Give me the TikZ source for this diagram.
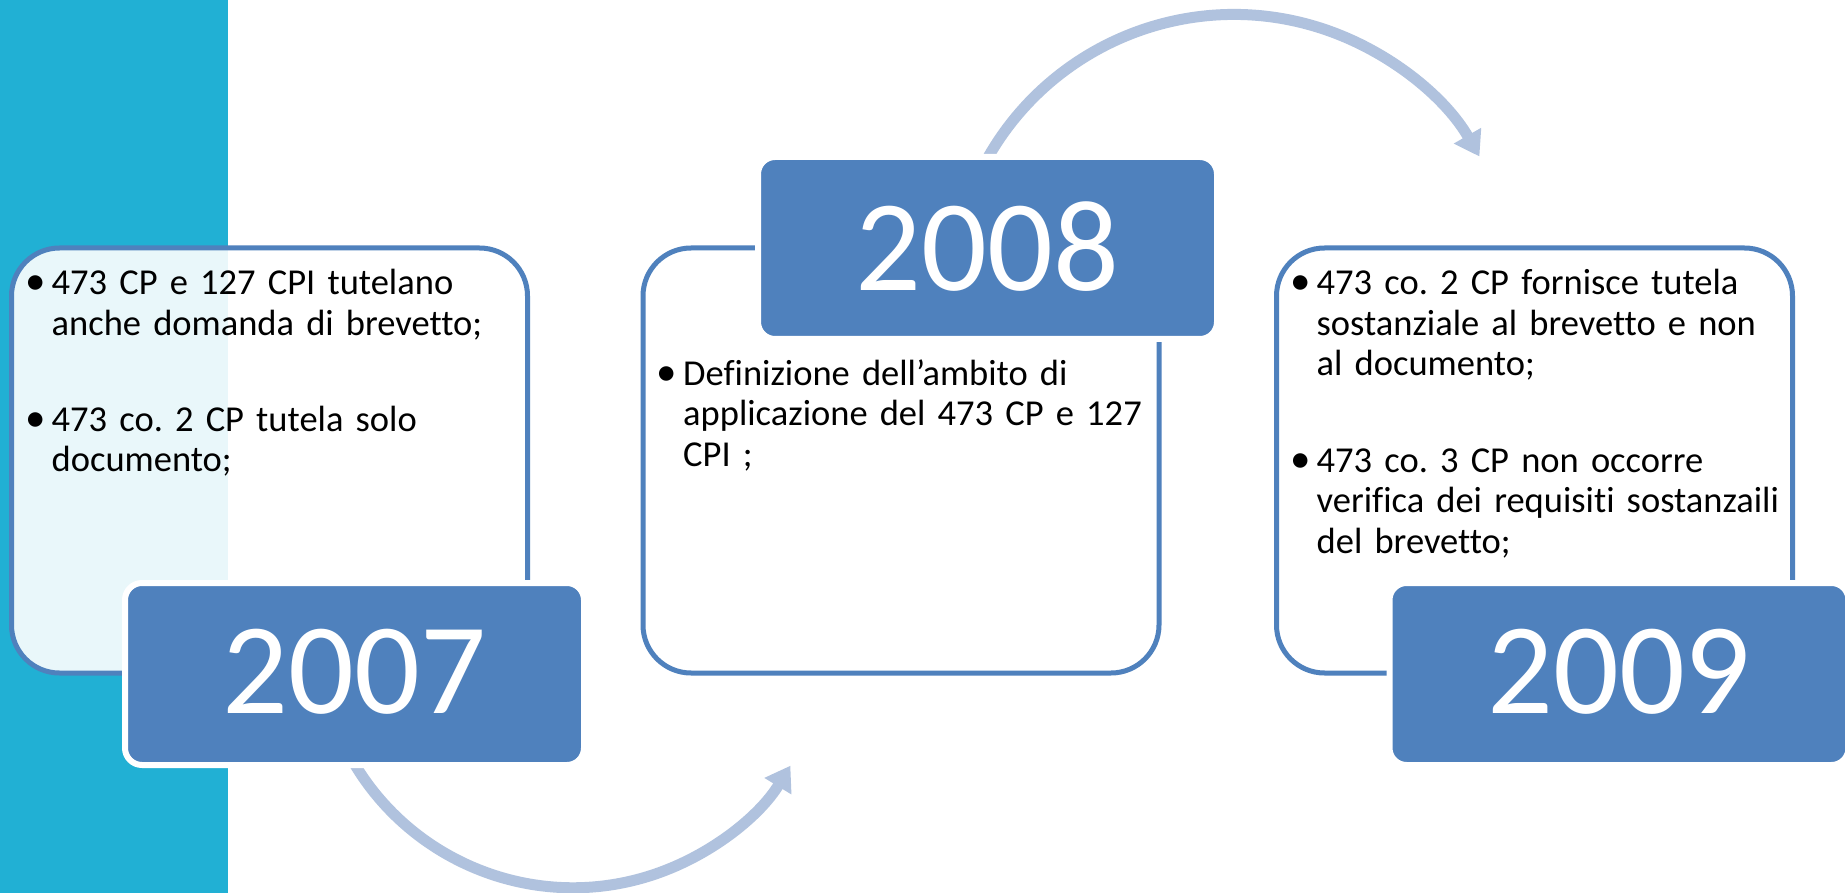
\documentclass[tikz,border=0pt]{standalone}
\usepackage{fontspec}
\setmainfont{Carlito}[Ligatures={TeX,NoCommon}]
\usetikzlibrary{arrows.meta}
\definecolor{bandcyan}{RGB}{33,176,212}
\definecolor{boxblue}{RGB}{79,129,189}
\definecolor{arrowblue}{RGB}{176,194,222}
\frenchspacing
\begin{document}
\begin{tikzpicture}[x=1pt,y=-1pt,
  outline/.style={draw=boxblue, line width=5pt, fill=white, fill opacity=0.9,
    rounded corners=48pt, minimum width=516pt, minimum height=425pt,
    inner sep=0pt, outer sep=0pt},
  yearbox/.style={fill=boxblue, draw=white, line width=6pt, rounded corners=17pt,
    minimum width=459pt, minimum height=182pt, inner sep=0pt, outer sep=0pt,
    text=white, font=\fontsize{130}{130}\selectfont},
  body/.style={anchor=base west, inner sep=0pt, text width=500pt, align=left,
    font=\fontsize{36.5}{40.5}\selectfont},
  bulletmark/.style={anchor=base west, inner sep=0pt, font=\fontsize{41}{40.5}\selectfont},
  flow/.style={draw=arrowblue, line width=11pt, -{Triangle[width=30pt,length=24pt]}}
]
\useasboundingbox (0,0) rectangle (1845,893);
\fill[white] (0,0) rectangle (1845,893);
\fill[bandcyan] (0,0) rectangle (228,893);

% arc centres and arc start points
\coordinate (c1) at (573,633);
\coordinate (c2) at (1234,297.6);
\path (c1) ++(160:254.7) coordinate (a1s);
\path (c2) ++(200:283.1) coordinate (a2s);

% arrows
\draw[flow] (a1s) arc[start angle=160, end angle=31.4, radius=254.7];
\draw[flow] (a2s) arc[start angle=200, end angle=330.1, radius=283.1];

% outline boxes
\node[outline] (b1) at (269.5,460.5) {};
\node[outline] (b2) at (901,460.5) {};
\node[outline] (b3) at (1534.5,460.5) {};

% year boxes
\node[yearbox] (y1) at (354.5,674) {\raisebox{4.5pt}{2007}};
\node[yearbox] (y2) at (987.5,248) {\raisebox{4.5pt}{2008}};
\node[yearbox] (y3) at (1619,674) {\raisebox{4.5pt}{2009}};

% texts box 1
\node[bulletmark] (p1a) at (25,295) {\textbullet};
\node[body] (t1a) at (51.5,295) {473 CP e 127 CPI tutelano\\anche domanda di brevetto;};
\node[bulletmark] (p1b) at (25,431) {\textbullet};
\node[body] (t1b) at (51.5,431) {473 co. 2 CP tutela solo\\documento;};

% texts box 2
\node[bulletmark] (p2a) at (656.5,385) {\textbullet};
\node[body] (t2a) at (683,385) {Definizione dell’ambito di\\applicazione del 473 CP e 127\\CPI ;};

% texts box 3
\node[bulletmark] (p3a) at (1290.5,295) {\textbullet};
\node[body] (t3a) at (1316.5,295) {473 co. 2 CP fornisce tutela\\sostanziale al brevetto e non\\al documento;};
\node[bulletmark] (p3b) at (1290.5,472) {\textbullet};
\node[body] (t3b) at (1316.5,472) {473 co. 3 CP non occorre\\verifica dei requisiti sostanzaili\\del brevetto;};
\end{tikzpicture}
\end{document}
